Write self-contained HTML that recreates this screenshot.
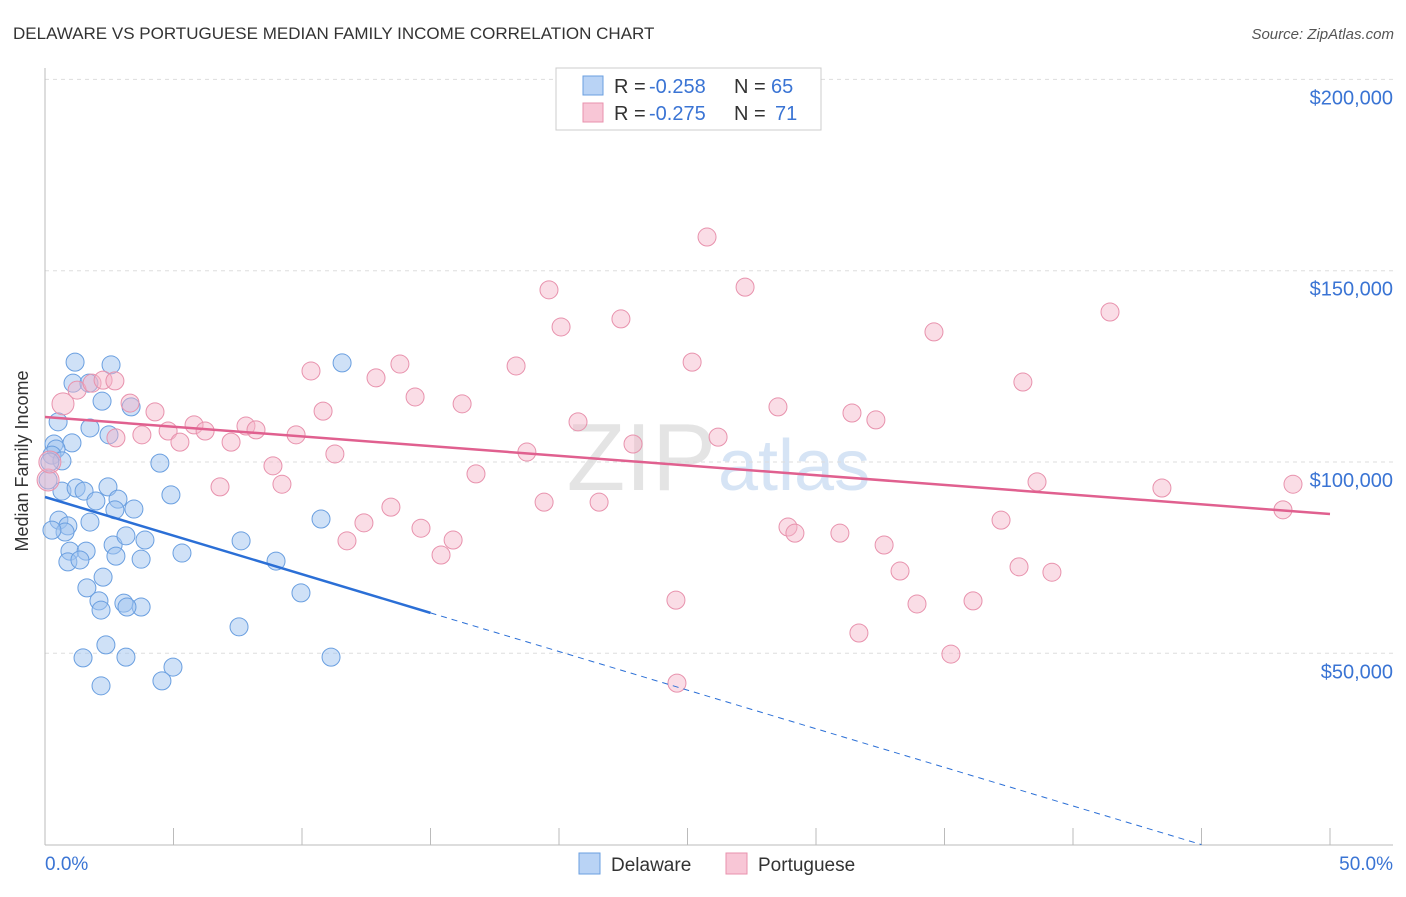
<!DOCTYPE html>
<html><head><meta charset="utf-8"><style>
body{margin:0;background:#fff;font-family:"Liberation Sans",sans-serif}
svg text{font-family:"Liberation Sans",sans-serif}
</style></head><body>
<svg id="c" width="1406" height="892" xmlns="http://www.w3.org/2000/svg">
<text x="13" y="39" font-size="17" fill="#333">DELAWARE VS PORTUGUESE MEDIAN FAMILY INCOME CORRELATION CHART</text>
<text x="1394" y="39" font-size="15" fill="#555" font-style="italic" text-anchor="end">Source: ZipAtlas.com</text>
<text x="716" y="490" font-size="96" fill="#e4e4e4" text-anchor="end" font-family="Liberation Serif">ZIP</text>
<text x="718" y="490" font-size="72" fill="#d6e4f5">atlas</text>
<g id="grid"></g><g id="axes"></g><g id="pts"></g><g id="trend"></g>
<text x="22" y="455" font-size="18" fill="#333" text-anchor="middle" transform="rotate(-90 28 455)">Median Family Income</text>
<g>
<rect x="556" y="68" width="265" height="62" fill="#fff" stroke="#ccc"/>
<rect x="583" y="76" width="20" height="19" fill="#b9d3f5" stroke="#6a9fe0"/>
<rect x="583" y="103" width="20" height="19" fill="#f8c6d6" stroke="#e892ad"/>
<text x="614" y="93" font-size="20" fill="#333">R =</text>
<text x="649" y="93" font-size="20" fill="#3a74d4">-0.258</text>
<text x="734" y="93" font-size="20" fill="#333">N =</text>
<text x="771" y="93" font-size="20" fill="#3a74d4">65</text>
<text x="614" y="120" font-size="20" fill="#333">R =</text>
<text x="649" y="120" font-size="20" fill="#3a74d4">-0.275</text>
<text x="734" y="120" font-size="20" fill="#333">N =</text>
<text x="775" y="120" font-size="20" fill="#3a74d4">71</text>
</g>
<g>
<rect x="579" y="853" width="21" height="21" fill="#b9d3f5" stroke="#6a9fe0"/>
<text x="611" y="871" font-size="19" fill="#333">Delaware</text>
<rect x="726" y="853" width="21" height="21" fill="#f8c6d6" stroke="#e892ad"/>
<text x="758" y="871" font-size="19" fill="#333">Portuguese</text>
</g>
</svg>
<script>
const yTicks=[50,100,150,200];
const yTickLabels=["$50,000","$100,000","$150,000","$200,000"];
const xTickLabels=["0.0%","50.0%"];
const blueX=[1.17,2.57,1.09,1.71,2.22,3.35,0.51,1.75,2.49,1.05,0.35,0.43,0.27,0.66,0.19,4.47,0.12,0.66,1.21,1.52,2.45,2.84,1.98,3.46,2.72,4.90,0.54,1.75,0.89,0.78,0.27,3.89,2.65,3.15,0.97,1.60,2.76,3.74,5.33,7.63,0.89,1.36,8.99,2.26,1.63,2.10,3.07,2.18,3.74,3.19,7.55,9.96,10.74,11.56,2.37,3.15,1.48,11.13,4.98,4.55,2.18];
const blueY=[126.1,125.4,120.6,120.6,115.9,114.4,110.5,108.9,107.1,105.0,104.7,103.4,101.8,100.3,100,99.7,95.3,92.4,93.2,92.4,93.5,90.3,89.8,87.7,87.5,91.4,84.8,84.3,83.3,81.7,82.2,79.6,78.3,80.7,76.7,76.7,75.4,74.6,76.2,79.4,73.9,74.4,74.1,69.9,67.1,63.7,63.1,61.3,62.1,62.1,56.9,65.8,85.1,125.9,52.2,49.0,48.8,49.0,46.4,42.8,41.5];
const pinkX=[0.70,1.25,1.83,2.26,2.72,3.31,2.76,3.77,4.28,4.79,5.25,5.80,6.23,7.24,7.82,8.21,8.87,9.22,6.81,9.77,10.35,10.82,11.28,11.75,12.41,12.88,13.46,13.81,14.40,14.63,15.41,15.88,16.23,16.77,18.33,18.75,19.42,19.61,20.08,20.74,21.56,22.41,22.88,24.55,24.59,25.18,25.76,26.19,27.24,28.52,28.91,29.18,30.93,31.40,31.67,32.33,32.65,33.27,33.93,34.59,35.25,36.11,37.20,37.90,38.05,38.60,39.18,41.44,43.46,48.17,48.56,0.12,0.19];
const pinkY=[115.2,118.8,120.6,121.4,121.2,115.4,106.3,107.1,113.1,108.1,105.2,109.7,108.1,105.2,109.4,108.4,99.0,94.2,93.5,107.1,123.8,113.3,102.1,79.4,84.1,122.0,88.2,125.6,117.0,82.7,75.7,79.6,115.2,96.9,125.1,102.6,89.5,145.0,135.3,110.5,89.5,137.4,104.7,63.9,42.2,126.1,158.8,106.5,145.7,114.4,83.0,81.4,81.4,112.8,55.3,111.0,78.3,71.5,62.9,134.0,49.8,63.7,84.8,72.6,120.9,94.8,71.2,139.2,93.2,87.5,94.2,95.3,100];
const pinkBig=[0,71,72];
const blueTrend=[90.85,-2.019,15];
const pinkTrend=[111.76,86.4];
const X=v=>45+v*25.7, Y=v=>462-(v-100)*3.826;
const NS="http://www.w3.org/2000/svg";
function mk(p,t,a){const e=document.createElementNS(NS,t);for(const k in a)e.setAttribute(k,a[k]);document.getElementById(p).appendChild(e);return e;}
yTicks.forEach((t,i)=>{
 const l=mk('grid','line',{x1:45,x2:1393,y1:Y(t),y2:Y(t),stroke:'#ddd','stroke-dasharray':'4 4'});
 
 
 const tx=mk('grid','text',{x:1393,y:Y(t)+25,'font-size':20,fill:'#3a74d4','text-anchor':'end'});
 tx.textContent=yTickLabels[i];
 
 
});
let a=mk('axes','line',{x1:45,x2:45,y1:68,y2:845,stroke:'#bbb'});


a=mk('axes','line',{x1:45,x2:1393,y1:845,y2:845,stroke:'#bbb'});


for(let i=1;i<=10;i++){const t=mk('axes','line',{x1:X(i*5),x2:X(i*5),y1:828,y2:845,stroke:'#bbb'});
 
 }
[[0,'start',45],[1,'end',1393]].forEach(([i,an,x])=>{const t=mk('axes','text',{x:x,y:870,'font-size':19,fill:'#3a74d4','text-anchor':an});t.textContent=xTickLabels[i];
 
 });
blueX.forEach((v,i)=>{const c=mk('pts','circle',{cx:X(v),cy:Y(blueY[i]),r:9,fill:'rgba(160,196,240,0.5)',stroke:'#6a9fe0','stroke-width':1});
 
 });
pinkX.forEach((v,i)=>{const c=mk('pts','circle',{cx:X(v),cy:Y(pinkY[i]),r:pinkBig.includes(i)?11:9,fill:'rgba(244,180,200,0.45)',stroke:'#e892ad','stroke-width':1});
 
 });
const bEnd=blueTrend[2], bx0=-blueTrend[0]/blueTrend[1];
let t=mk('trend','line',{x1:X(0),y1:Y(blueTrend[0]),x2:X(bEnd),y2:Y(blueTrend[0]+blueTrend[1]*bEnd),stroke:'#2b6fd6','stroke-width':2.5});


t=mk('trend','line',{x1:X(bEnd),y1:Y(blueTrend[0]+blueTrend[1]*bEnd),x2:X(bx0),y2:Y(0),stroke:'#2b6fd6','stroke-width':1,'stroke-dasharray':'6 5'});


t=mk('trend','line',{x1:X(0),y1:Y(pinkTrend[0]),x2:X(50),y2:Y(pinkTrend[1]),stroke:'#e0608f','stroke-width':2.5});


</script>
</body></html>
